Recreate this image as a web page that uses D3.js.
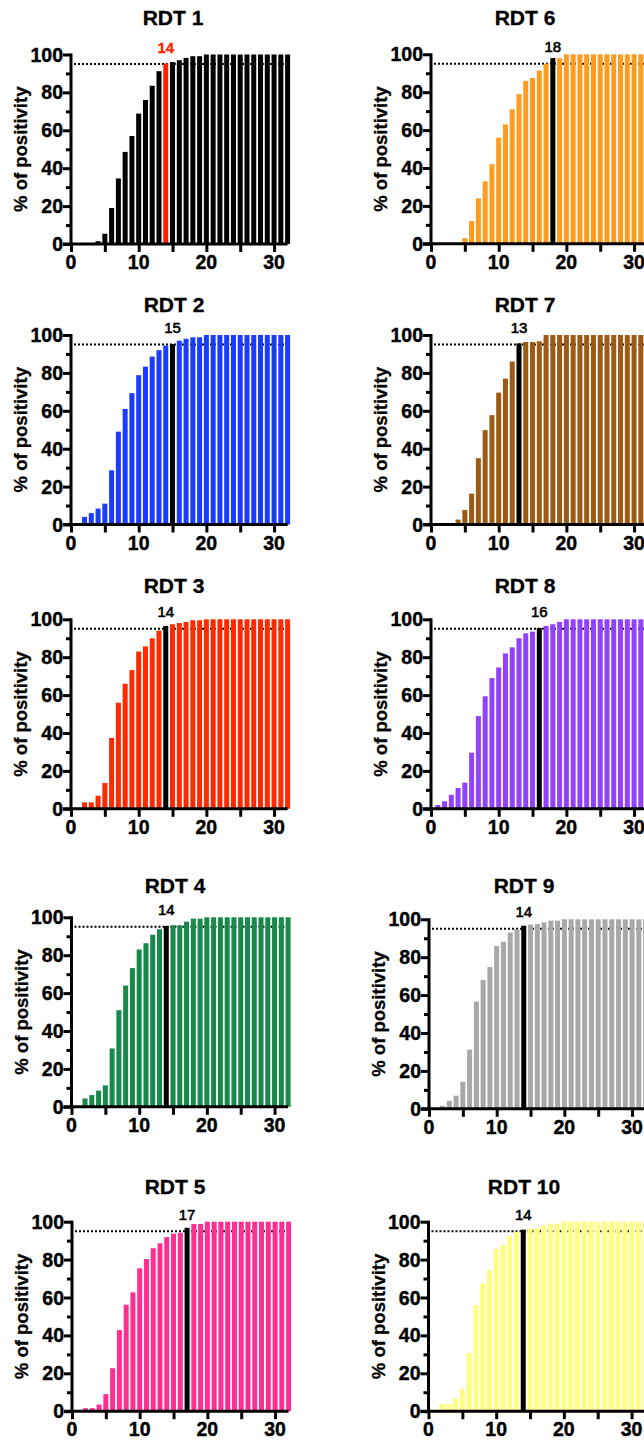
<!DOCTYPE html>
<html>
<head>
<meta charset="utf-8">
<script src="https://cdn.jsdelivr.net/npm/d3@7"></script>
<style>
	body { margin: 0; background: #fff; }
	svg text { font-family: "Liberation Sans", Arial, sans-serif; }
</style>
</head>
<body>
<div id="chart"></div>
<script>
// days after symptom onset
var days = [1,2,3,4,5,6,7,8,9,10,11,12,13,14,15,16,17,18,19,20,21,22,23,24,25,26,27,28,29,30,31,32];

var rdt1  = [0,0,0,1.5,5.4,19,34.6,48.6,57,68.8,76,83.5,91.2,95.3,96,97,98.2,99.1,99.1,100,100,100,100,100,100,100,100,100,100,100,100,100];
var rdt2  = [0,4,6,8.4,11,28.6,49,61,69.3,78.8,83.3,88.6,92,94.4,95.2,97,98,98.8,98.8,100,100,100,100,100,100,100,100,100,100,100,100,100];
var rdt3  = [0,3.4,3.4,6.9,13.6,37.4,56,66,73.2,83,85.7,90,94,96.5,97.4,98,98.6,99.5,99.5,100,100,100,100,100,100,100,100,100,100,100,100,100];
var rdt4  = [0,4.4,6.2,8.5,11.3,30.8,51,64,73.2,83,86.3,90.8,93.7,95.4,95.8,95.8,97.7,99.3,99.3,100,100,100,100,100,100,100,100,100,100,100,100,100];
var rdt5  = [0,1.6,1.6,3.5,9,22.7,42.8,56.2,62.7,75.4,80.3,86,88.6,91.9,93.7,94.2,96.8,98.8,98.8,100,100,100,100,100,100,100,100,100,100,100,100,100];
var rdt6  = [0,0,0,0,3,12,24,33,42,56,63,71,79,86,87.5,91.4,95,98,98,100,100,100,100,100,100,100,100,100,100,100,100,100];
var rdt7  = [0,0,0,2.6,7.7,16.3,35,49.8,57.7,69.6,77,86,95.6,96.3,96.3,96.7,100,100,100,100,100,100,100,100,100,100,100,100,100,100,100,100];
var rdt8  = [2,4,7.4,11,13.8,29.6,48.9,59.4,69,74.6,82,85.2,90,92.6,93.5,95.4,96.5,97.4,98.6,100,100,100,100,100,100,100,100,100,100,100,100,100];
var rdt9  = [0,1.6,4.2,6.9,14.3,31.2,56.6,68,74.8,85.9,88.2,93,94.7,96.6,97.2,97.5,98.4,99.3,99.3,100,100,100,100,100,100,100,100,100,100,100,100,100];
var rdt10 = [0,3.9,3.9,6.7,11.8,30.7,56,67.4,74.4,85.5,87.8,92.4,94.7,95.8,96.3,96.5,98,98.9,98.9,100,100,100,100,100,100,100,100,100,100,100,100,100];

var titles = ["RDT 1","RDT 2","RDT 3","RDT 4","RDT 5","RDT 6","RDT 7","RDT 8","RDT 9","RDT 10"];
var series = [rdt1, rdt2, rdt3, rdt4, rdt5, rdt6, rdt7, rdt8, rdt9, rdt10];
var cutoffDay = [14,15,14,14,17,18,13,16,14,14];
var threshold = 95;

var xTicks = [0,5,10,15,20,25,30];
var xLabels = [0,10,20,30];
var yTicks = [0,10,20,30,40,50,60,70,80,90,100];
var yLabels = [0,20,40,60,80,100];

var barColors = ["#000000","#1a3cff","#ff2a00","#17894b","#ff2f92","#ff9b1f","#9c5a14","#9142ff","#a8a8a8","#ffff80"];
var markColors = ["#ff1f00","#000","#000","#000","#000","#000","#000","#000","#000","#000"];

// panel placement: axis origin x, y of 100%, title position
var layout = [
	{x: 71,    top: 54.5,   tx: 173, ty: 25},
	{x: 71,    top: 335,    tx: 174, ty: 312},
	{x: 71,    top: 619.3,  tx: 174, ty: 593},
	{x: 71.5,  top: 917.3,  tx: 175, ty: 893},
	{x: 72,    top: 1221.7, tx: 175, ty: 1194},
	{x: 431,   top: 54.3,   tx: 525, ty: 25},
	{x: 431,   top: 335,    tx: 525, ty: 312},
	{x: 431,   top: 619.3,  tx: 525, ty: 593},
	{x: 429,   top: 919.3,  tx: 524, ty: 893},
	{x: 428.5, top: 1221.7, tx: 524, ty: 1194}
];

const
	W = 644, H = 1442,
	PLOT_W = 216.6, PLOT_H = 189.5,
	AXIS_W = 3;

var svg = d3.select("#chart")
	.append("svg")
	.attr("width", W)
	.attr("height", H);

var drawPanel = function(i){
	var p = layout[i], vals = series[i];
	var x = d3.scaleLinear().domain([0, 32]).range([p.x, p.x + PLOT_W]);
	var y = d3.scaleLinear().domain([0, 100]).range([p.top + PLOT_H, p.top]);
	var bw = (x(1) - x(0)) * 0.74;
	var g = svg.append("g");

	// 95% threshold, behind the bars
	g.append("line")
		.attr("x1", x(0) + 3).attr("x2", x(32))
		.attr("y1", y(threshold)).attr("y2", y(threshold))
		.attr("stroke", "#000")
		.attr("stroke-width", 2)
		.attr("stroke-dasharray", "2,2");

	g.selectAll("rect.bar")
		.data(days)
		.enter()
		.append("rect")
		.attr("class", "bar")
		.attr("x", function(d){ return x(d) - bw/2; })
		.attr("width", bw)
		.attr("y", function(d, j){ return y(vals[j]); })
		.attr("height", function(d, j){ return y(0) - y(vals[j]); })
		.attr("fill", function(d){ return d == cutoffDay[i] ? markColors[i] : barColors[i]; });

	// axes
	var yAxis = d3.axisLeft(y).tickValues(yTicks)
		.tickSize(8).tickFormat("");
	var gy = g.append("g")
		.attr("transform", "translate(" + x(0) + ",0)")
		.call(yAxis);
	gy.selectAll(".tick line")
		.attr("x2", function(d){ return yLabels.indexOf(d) >= 0 ? -8 : -5; });

	var xAxis = d3.axisBottom(x).tickValues(xTicks)
		.tickSize(8).tickFormat("");
	var gx = g.append("g")
		.attr("transform", "translate(0," + y(0) + ")")
		.call(xAxis);

	[gx, gy].forEach(function(a){
		a.select(".domain").remove();
		a.selectAll(".tick line")
			.attr("stroke", "#000")
			.attr("stroke-width", AXIS_W);
	});
	g.append("line")
		.attr("x1", x(0)).attr("x2", x(0))
		.attr("y1", y(100) - 1).attr("y2", y(0) + 1.5)
		.attr("stroke", "#000").attr("stroke-width", AXIS_W);
	g.append("line")
		.attr("x1", x(0) - 8).attr("x2", x(32))
		.attr("y1", y(0)).attr("y2", y(0))
		.attr("stroke", "#000").attr("stroke-width", AXIS_W);

	g.selectAll("text.ylab")
		.data(yLabels)
		.enter()
		.append("text")
		.attr("class", "ylab")
		.attr("x", x(0) - 8)
		.attr("y", function(d){ return y(d) + 7; })
		.attr("text-anchor", "end")
		.attr("font-size", 19.5)
		.attr("font-weight", "bold")
		.attr("stroke", "#000").attr("stroke-width", 0.4)
		.text(function(d){ return d; });

	g.selectAll("text.xlab")
		.data(xLabels)
		.enter()
		.append("text")
		.attr("class", "xlab")
		.attr("x", function(d){ return x(d); })
		.attr("y", y(0) + 25)
		.attr("text-anchor", "middle")
		.attr("font-size", 19.5)
		.attr("font-weight", "bold")
		.attr("stroke", "#000").attr("stroke-width", 0.4)
		.text(function(d){ return d; });

	g.append("text")
		.attr("transform", "translate(" + (p.x - 44) + "," + (p.top + PLOT_H/2) + ") rotate(-90)")
		.attr("text-anchor", "middle")
		.attr("font-size", 18.5)
		.attr("font-weight", "bold")
		.attr("stroke", "#000").attr("stroke-width", 0.3)
		.text("% of positivity");

	g.append("text")
		.attr("x", p.tx)
		.attr("y", p.ty)
		.attr("text-anchor", "middle")
		.attr("font-size", 21)
		.attr("font-weight", "bold")
		.attr("stroke", "#000").attr("stroke-width", 0.3)
		.text(titles[i]);

	g.append("text")
		.attr("x", x(cutoffDay[i]))
		.attr("y", y(100) - 2)
		.attr("text-anchor", "middle")
		.attr("font-size", 15)
		.attr("font-weight", i == 0 ? "bold" : "normal")
		.attr("fill", markColors[i])
		.attr("stroke", markColors[i]).attr("stroke-width", i == 0 ? 0.3 : 0.6)
		.text(cutoffDay[i]);
}

titles.forEach(function(t, i){ drawPanel(i); });
</script>
</body>
</html>
